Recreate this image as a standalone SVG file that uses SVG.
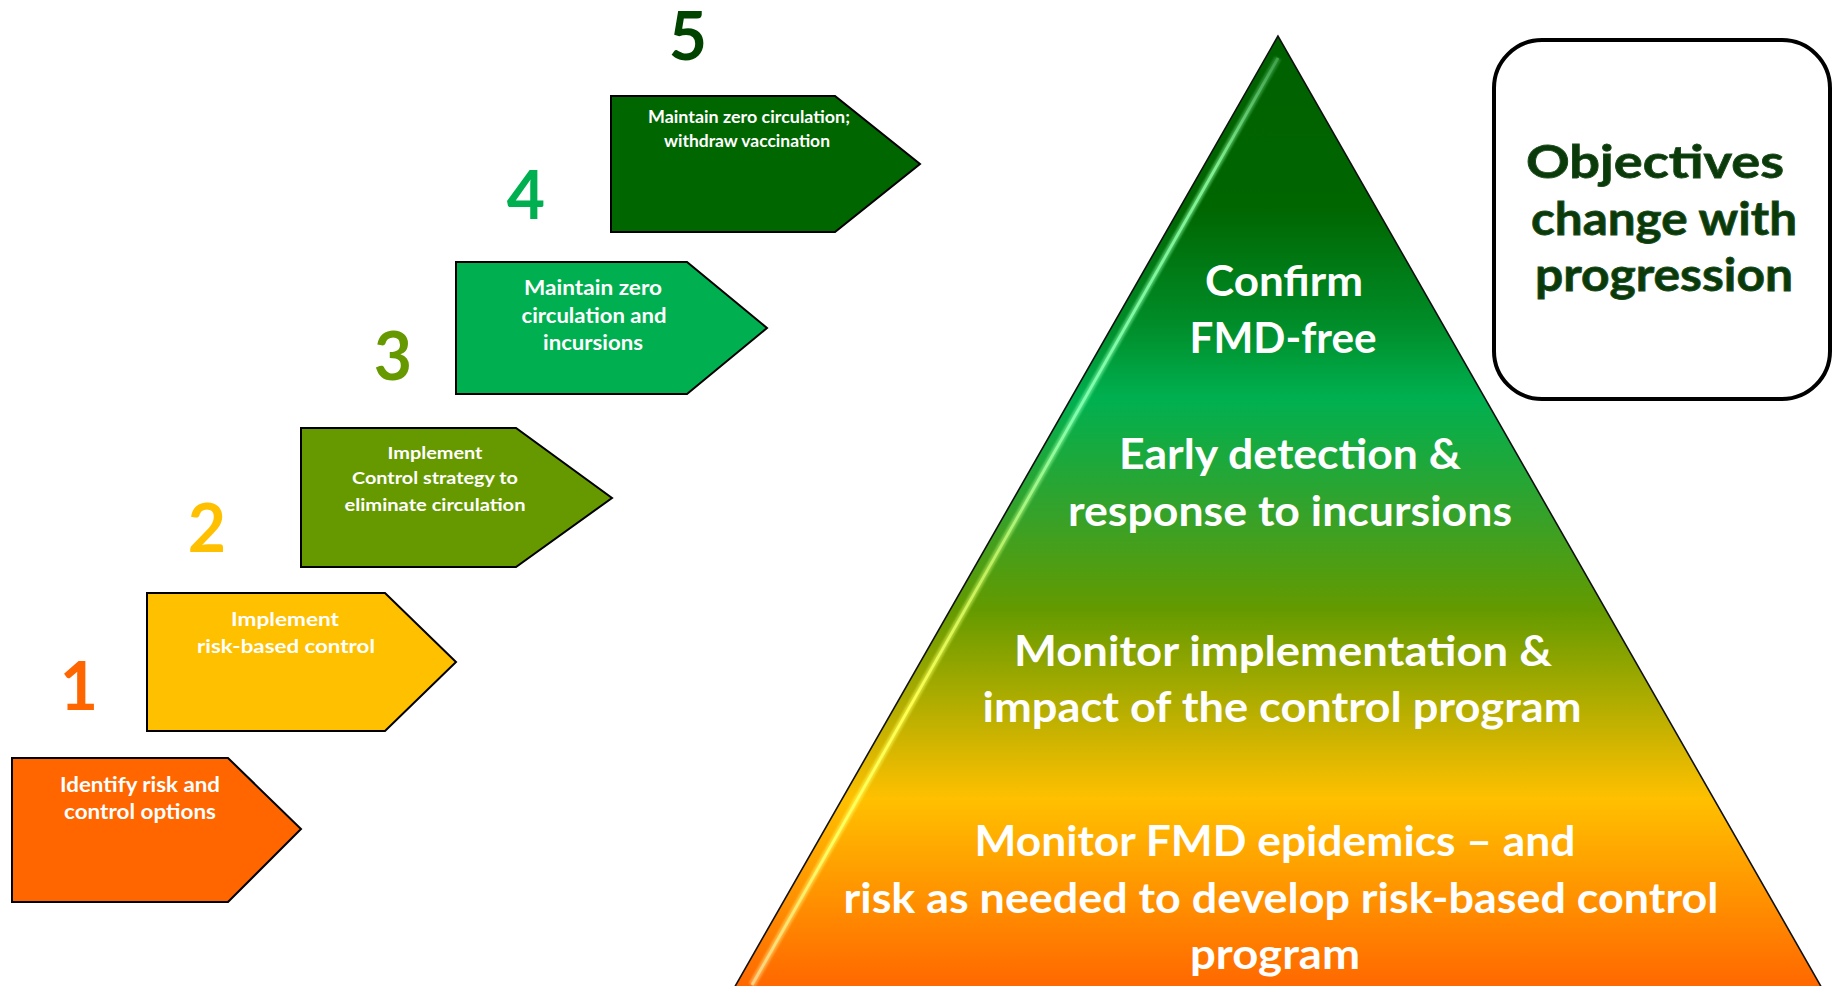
<svg xmlns="http://www.w3.org/2000/svg" width="1834" height="986" viewBox="0 0 1834 986">
  <defs>
    <linearGradient id="pyrGrad" gradientUnits="userSpaceOnUse" x1="0" y1="36" x2="0" y2="990">
      <stop offset="0" stop-color="#006000"/>
      <stop offset="0.18" stop-color="#006600"/>
      <stop offset="0.3" stop-color="#008c28"/>
      <stop offset="0.38" stop-color="#00b050"/>
      <stop offset="0.5" stop-color="#35a22a"/>
      <stop offset="0.6" stop-color="#639a00"/>
      <stop offset="0.8" stop-color="#ffc000"/>
      <stop offset="1" stop-color="#ff6600"/>
    </linearGradient>
    <linearGradient id="hiGrad" gradientUnits="userSpaceOnUse" x1="0" y1="58" x2="0" y2="985">
      <stop offset="0" stop-color="#3fa04a"/>
      <stop offset="0.12" stop-color="#80f090"/>
      <stop offset="0.38" stop-color="#80ffb0"/>
      <stop offset="0.55" stop-color="#c0f060"/>
      <stop offset="0.7" stop-color="#ffff50"/>
      <stop offset="0.85" stop-color="#ffff60"/>
      <stop offset="1" stop-color="#ffd080"/>
    </linearGradient>
    <filter id="soft" x="-20%" y="-20%" width="140%" height="140%">
      <feGaussianBlur stdDeviation="1.2"/>
    </filter>
  </defs>
  <style>
    .arrow { stroke: #000; stroke-width: 2; stroke-linejoin: miter; }
    .at { font-family: Lato, "Open Sans", "Liberation Sans", sans-serif; font-weight: bold; fill: #ffffff; text-anchor: middle; }
    .num { font-family: Lato, "Open Sans", "Liberation Sans", sans-serif; font-weight: bold; font-size: 66px; text-anchor: middle; }
    .pt { font-family: Lato, "Open Sans", "Liberation Sans", sans-serif; font-weight: bold; fill: #ffffff; text-anchor: middle; font-size: 42px; }
    .ot { font-family: Lato, "Open Sans", "Liberation Sans", sans-serif; font-weight: bold; fill: #0a3a0a; stroke: #1c4a1c; stroke-width: 0.8; text-anchor: middle; font-size: 45px; }
  </style>
  <rect width="1834" height="986" fill="#ffffff"/>

  <g id="pyramid">
    <polygon points="1278,36 733,990 1823,990" fill="url(#pyrGrad)" stroke="#111" stroke-width="1.6" stroke-linejoin="miter"/>
    <line x1="1278" y1="58" x2="752" y2="985" stroke="url(#hiGrad)" stroke-width="7" opacity="0.55" filter="url(#soft)"/>
    <line x1="1278" y1="58" x2="752" y2="985" stroke="url(#hiGrad)" stroke-width="2.8"/>
    <text class="pt" x="1284" y="296" textLength="158" lengthAdjust="spacingAndGlyphs">Confirm</text>
    <text class="pt" x="1283" y="353" textLength="187" lengthAdjust="spacingAndGlyphs">FMD-free</text>
    <text class="pt" x="1290" y="469" textLength="342" lengthAdjust="spacingAndGlyphs">Early detection &amp;</text>
    <text class="pt" x="1290" y="526" textLength="444" lengthAdjust="spacingAndGlyphs">response to incursions</text>
    <text class="pt" x="1283" y="666" textLength="538" lengthAdjust="spacingAndGlyphs">Monitor implementation &amp;</text>
    <text class="pt" x="1282" y="722" textLength="599" lengthAdjust="spacingAndGlyphs">impact of the control program</text>
    <text class="pt" x="1275" y="856" textLength="601" lengthAdjust="spacingAndGlyphs">Monitor FMD epidemics – and</text>
    <text class="pt" x="1281" y="913" textLength="875" lengthAdjust="spacingAndGlyphs">risk as needed to develop risk-based control</text>
    <text class="pt" x="1275" y="969" textLength="170" lengthAdjust="spacingAndGlyphs">program</text>
  </g>

  <g id="objectives-box">
    <rect x="1494" y="40" width="336" height="359" rx="48" ry="48" fill="#ffffff" stroke="#000" stroke-width="4"/>
    <text class="ot" x="1655" y="178" textLength="258" lengthAdjust="spacingAndGlyphs">Objectives</text>
    <text class="ot" x="1664" y="235" textLength="266" lengthAdjust="spacingAndGlyphs">change with</text>
    <text class="ot" x="1664" y="291" textLength="258" lengthAdjust="spacingAndGlyphs">progression</text>
  </g>

  <g id="stage1">
    <polygon class="arrow" points="12,758 228,758 301,829 228,902 12,902" fill="#ff6600"/>
    <text class="num" x="79" y="710" fill="#ff6600">1</text>
    <text class="at" x="140" y="792" font-size="20" textLength="160" lengthAdjust="spacingAndGlyphs">Identify risk and</text>
    <text class="at" x="140" y="819" font-size="20" textLength="152" lengthAdjust="spacingAndGlyphs">control options</text>
  </g>

  <g id="stage2">
    <polygon class="arrow" points="147,593 385,593 456,662 385,731 147,731" fill="#ffc000"/>
    <text class="num" x="207" y="552" fill="#ffc000">2</text>
    <text class="at" x="285" y="626" font-size="19.5" textLength="108" lengthAdjust="spacingAndGlyphs">Implement</text>
    <text class="at" x="286" y="653" font-size="19.5" textLength="178" lengthAdjust="spacingAndGlyphs">risk-based control</text>
  </g>

  <g id="stage3">
    <polygon class="arrow" points="301,428 516,428 612,498 516,567 301,567" fill="#669900"/>
    <text class="num" x="393" y="380" fill="#669900">3</text>
    <text class="at" x="435" y="459" font-size="17.5" textLength="95" lengthAdjust="spacingAndGlyphs">Implement</text>
    <text class="at" x="435" y="484" font-size="17.5" textLength="166" lengthAdjust="spacingAndGlyphs">Control strategy to</text>
    <text class="at" x="435" y="511" font-size="17.5" textLength="181" lengthAdjust="spacingAndGlyphs">eliminate circulation</text>
  </g>

  <g id="stage4">
    <polygon class="arrow" points="456,262 687,262 767,328 687,394 456,394" fill="#00b050"/>
    <text class="num" x="526" y="219" fill="#00b050">4</text>
    <text class="at" x="593" y="295" font-size="21" textLength="138" lengthAdjust="spacingAndGlyphs">Maintain zero</text>
    <text class="at" x="594" y="323" font-size="21" textLength="145" lengthAdjust="spacingAndGlyphs">circulation and</text>
    <text class="at" x="593" y="350" font-size="21" textLength="100" lengthAdjust="spacingAndGlyphs">incursions</text>
  </g>

  <g id="stage5">
    <polygon class="arrow" points="611,96 835,96 920,164 835,232 611,232" fill="#006600"/>
    <text class="num" x="688" y="60" fill="#004400">5</text>
    <text class="at" x="749" y="123" font-size="16.5" textLength="202" lengthAdjust="spacingAndGlyphs">Maintain zero circulation;</text>
    <text class="at" x="747" y="147" font-size="16.5" textLength="166" lengthAdjust="spacingAndGlyphs">withdraw vaccination</text>
  </g>

  <g id="connectors"></g>
</svg>
